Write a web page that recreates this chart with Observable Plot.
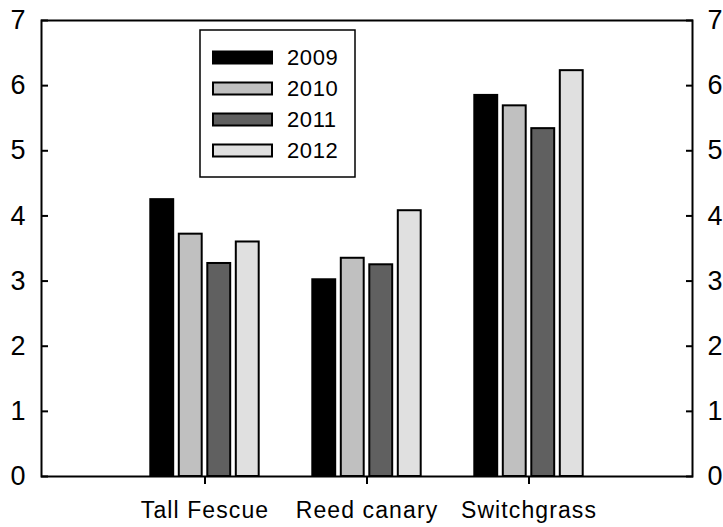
<!DOCTYPE html>
<html><head><meta charset="utf-8">
<script src="https://cdn.jsdelivr.net/npm/d3@7"></script>
<script src="https://cdn.jsdelivr.net/npm/@observablehq/plot@0.6"></script>
<style>body{margin:0;background:#fff} svg{font-family:"Liberation Sans",Arial,sans-serif}</style>
</head><body><div id="chart"></div>
<script>
const categories = ["Tall Fescue", "Reed canary", "Switchgrass"];
const years = ["2009", "2010", "2011", "2012"];
const v2009 = [4.25, 3.02, 5.85];
const v2010 = [3.72, 3.35, 5.69];
const v2011 = [3.27, 3.25, 5.34];
const v2012 = [3.60, 4.08, 6.23];
const yTicks = [0, 1, 2, 3, 4, 5, 6, 7];
const colors = ["#000000", "#c0c0c0", "#606060", "#e0e0e0"];
const series = [v2009, v2010, v2011, v2012];
const data = years.flatMap((yr, k) => categories.map((c, i) => ({category: c, year: yr, value: series[k][i]})));

const slot = 28.5, barW = 24, bandW = 163 * 0.7;
const inset = (bandW - barW) / 2;

const plot = Plot.plot({
  width: 723, height: 527,
  marginLeft: 41, marginRight: 31, marginTop: 20, marginBottom: 51,
  style: {fontFamily: "'Liberation Sans', Arial, sans-serif", background: "#fff", color: "#000"},
  x: {domain: categories, paddingInner: 0.3, paddingOuter: 0.65},
  y: {domain: [0, 7]},
  marks: [
    ...years.map((yr, k) => Plot.barY(data.filter(d => d.year === yr), {
      x: "category", y: "value", fill: colors[k], stroke: "#000", strokeWidth: 2,
      dx: (k - 1.5) * slot, insetLeft: inset, insetRight: inset
    })),
    Plot.frame({stroke: "#000", strokeWidth: 2}),
    Plot.axisY(yTicks, {anchor: "left", tickSize: -7, tickPadding: 23, fontSize: 27, strokeWidth: 2, label: null, tickFormat: d => String(d)}),
    Plot.axisY(yTicks, {anchor: "right", tickSize: -7, tickPadding: 22, fontSize: 27, strokeWidth: 2, label: null, tickFormat: d => String(d)}),
    Plot.axisX(categories, {anchor: "bottom", tickSize: 8, tickPadding: 17, fontSize: 23, strokeWidth: 2, label: null})
  ]
});

const svg = d3.select(plot);
svg.selectAll("text").filter(function() { return categories.includes(this.textContent); })
  .attr("letter-spacing", "1.1px");

const lg = svg.append("g").attr("text-anchor", "start");
lg.append("rect").attr("x", 200).attr("y", 30).attr("width", 155).attr("height", 147)
  .attr("fill", "#fff").attr("stroke", "#000").attr("stroke-width", 1.5);
years.forEach((yr, k) => {
  const cy = 57.5 + k * 31;
  lg.append("rect").attr("x", 213).attr("y", cy - 6).attr("width", 59).attr("height", 12)
    .attr("fill", colors[k]).attr("stroke", "#000").attr("stroke-width", 2);
  lg.append("text").attr("x", 287).attr("y", cy).attr("dy", "0.36em")
    .attr("font-size", 22).attr("letter-spacing", "0.6px").attr("fill", "#000").text(yr);
});

document.getElementById("chart").append(plot);
</script>
</body></html>
